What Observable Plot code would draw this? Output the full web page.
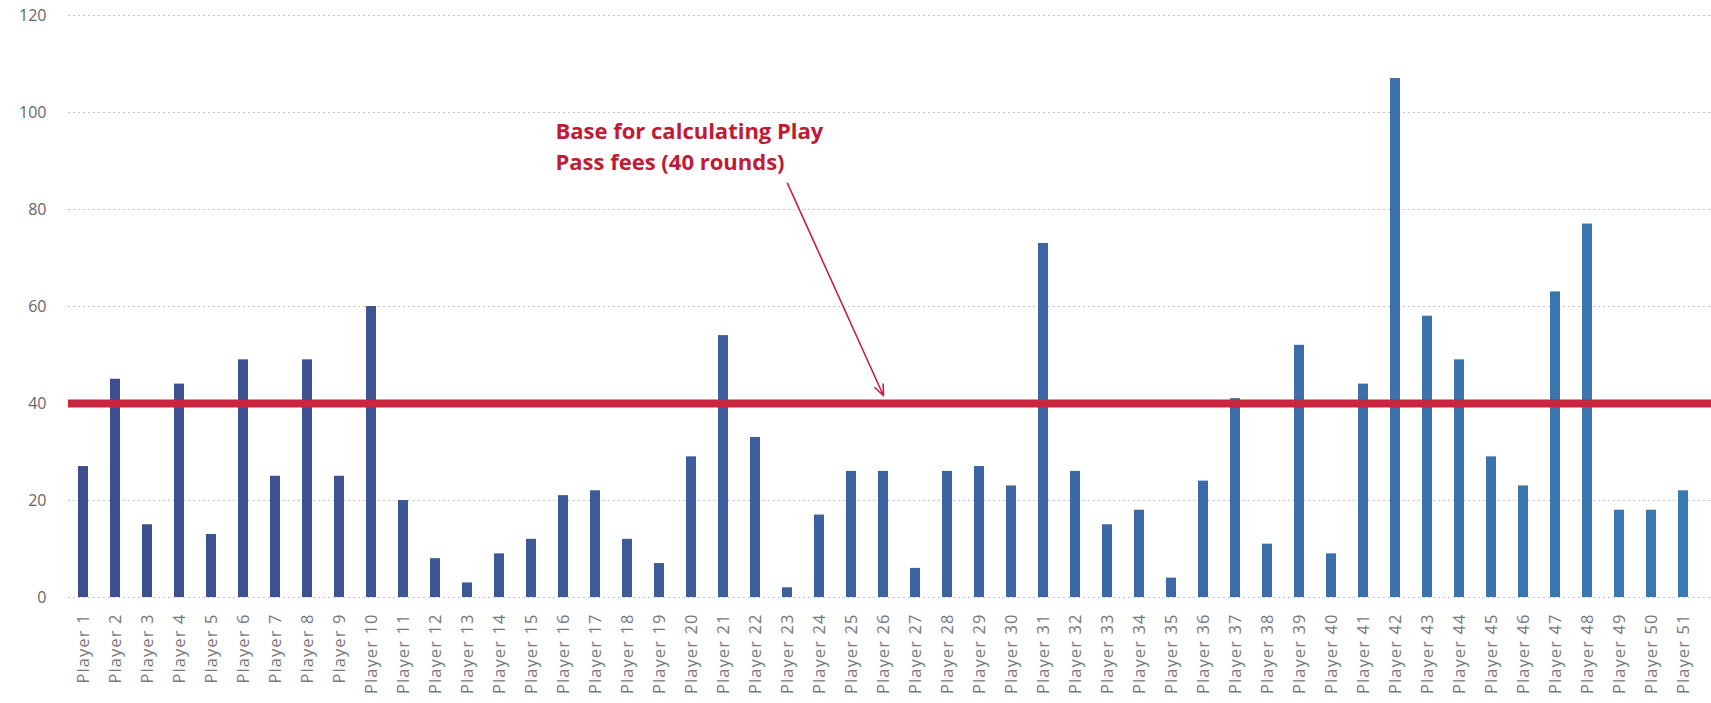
<!DOCTYPE html>
<html>
<head>
<meta charset="utf-8">
<script src="https://cdn.jsdelivr.net/npm/d3@7"></script>
<script src="https://cdn.jsdelivr.net/npm/@observablehq/plot@0.6"></script>
<style>
  html, body { margin: 0; padding: 0; background: #fff; }
  #chart svg [aria-label="y-axis tick label"] { fill: #666; }
  #chart svg [aria-label="x-axis tick label"] { fill: #777; letter-spacing: 1.1px; }
</style>
</head>
<body>
<div id="chart"></div>
<script>
const players = Array.from({length: 51}, (_, i) => `Player ${i + 1}`);
const rounds = [27,45,15,44,13,49,25,49,25,60,
                20,8,3,9,12,21,22,12,7,29,
                54,33,2,17,26,26,6,26,27,23,
                73,26,15,18,4,24,41,11,52,9,
                44,107,58,49,29,23,63,77,18,18,22];
const yTicks = [0, 20, 40, 60, 80, 100, 120];
const baseLine = [40];
const annotationText = ["Base for calculating Play\nPass fees (40 rounds)"];
const annotationAt = ["Player 16"];
const annotationY = [93.4];
const arrowFrom = {player: "Player 23", value: 85.4};
const arrowTo = {player: "Player 26", value: 41.6};

const data = players.map((p, i) => ({player: p, rounds: rounds[i], idx: i}));

const chart = Plot.plot({
  width: 1711,
  height: 703,
  marginLeft: 68,
  marginRight: 0,
  marginTop: 15,
  marginBottom: 106,
  style: {background: "#fff", fontFamily: "'Open Sans', sans-serif"},
  x: {domain: players, paddingInner: 0.69, paddingOuter: 0.516, align: 0.3, label: null},
  y: {domain: [0, 120], label: null},
  color: {type: "linear", domain: [0, 50], range: ["#3e4d8d", "#3b79b1"]},
  marks: [
    Plot.gridY(yTicks, {stroke: "#c4c4c4", strokeOpacity: 1, strokeDasharray: "2,3"}),
    Plot.barY(data, {x: "player", y: "rounds", fill: "idx"}),
    Plot.ruleY(baseLine, {stroke: "#c9253f", strokeWidth: 8}),
    Plot.arrow([{x1: arrowFrom.player, y1: arrowFrom.value, x2: arrowTo.player, y2: arrowTo.value}], {
      x1: "x1", y1: "y1", x2: "x2", y2: "y2",
      stroke: "#c0253f", strokeWidth: 1.6, headLength: 11, headAngle: 45
    }),
    Plot.text(annotationText, {
      x: (d, i) => annotationAt[i], y: (d, i) => annotationY[i], text: d => d,
      textAnchor: "start", lineAnchor: "middle", dx: -8, lineHeight: 1.4,
      fill: "#c01a35", fontSize: 22, fontWeight: "bold"
    }),
    Plot.axisY(yTicks, {tickSize: 0, tickPadding: 22, fontSize: 16}),
    Plot.axisX({tickSize: 0, tickPadding: 16, tickRotate: -90, fontSize: 16.5})
  ]
});
document.getElementById("chart").appendChild(chart);
</script>
</body>
</html>
